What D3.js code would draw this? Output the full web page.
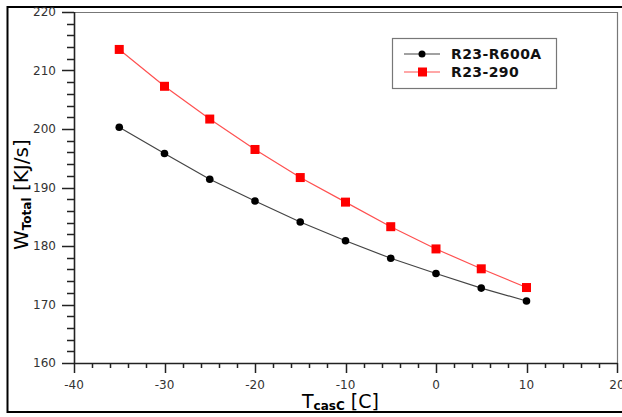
<!DOCTYPE html>
<html>
<head>
<meta charset="utf-8">
<script src="https://d3js.org/d3.v7.min.js"></script>
<style>
  body { margin: 0; background: #fff; }
  text { font-family: "DejaVu Sans", Verdana, sans-serif; }
</style>
</head>
<body>
<svg id="chart" width="622" height="417"></svg>
<script>
// data
const temps = [-35, -30, -25, -20, -15, -10, -5, 0, 5, 10];
const r600a = [200.3, 195.8, 191.4, 187.7, 184.1, 180.9, 177.9, 175.3, 172.8, 170.6];
const r290  = [213.6, 207.3, 201.7, 196.5, 191.7, 187.5, 183.3, 179.5, 176.1, 172.9];
const seriesNames = ["R23-R600A", "R23-290"];
const xTicks = [-40, -30, -20, -10, 0, 10, 20];
const yTicks = [160, 170, 180, 190, 200, 210, 220];

const svg = d3.select("#chart");

// outer frame
svg.append("path")
  .attr("d", "M623,7 H7.5 V412 H623")
  .attr("fill", "none").attr("stroke", "#000").attr("stroke-width", 2);

const x = d3.scaleLinear().domain([-40, 20]).range([74, 617]);
const y = d3.scaleLinear().domain([160, 220]).range([363, 12]);
const x0 = x(-40), y0 = y(160);

// plot frame (top/right gray)
svg.append("path")
  .attr("d", `M${x0},${y(220) + 0.5} H${x(20) + 0.5} V${y0}`)
  .attr("fill", "none").attr("stroke", "#777").attr("stroke-width", 1.2);

// ticks as one path, built from the scales
const xMinor = d3.range(-40, 21, 2);
const yMinor = d3.range(160, 221, 2);
let td = "";
xMinor.forEach(d => {
  const px = Math.round(x(d)) + 0.5;
  td += `M${px},${y0}V${y0 + (d % 10 === 0 ? 10 : 5)}`;
});
yMinor.forEach(d => {
  const py = Math.round(y(d)) + 0.5;
  td += `M${x0},${py}H${x0 - (d % 10 === 0 ? 12 : 7)}`;
});
svg.append("path").attr("d", td).attr("fill", "none")
  .attr("stroke", "#222").attr("stroke-width", 1.5);
svg.append("path")
  .attr("d", `M${x0 + 0.5},${y(220)}V${y0 + 0.5}H${x(20) + 0.5}`)
  .attr("fill", "none").attr("stroke", "#222").attr("stroke-width", 1.6);

// tick labels
const lab = svg.append("g").attr("fill", "#333").style("font-size", "12px");
lab.selectAll(".xl").data(xTicks).enter().append("text")
  .attr("x", d => x(d)).attr("y", y0 + 26).attr("text-anchor", "middle").text(d => String(d));
lab.selectAll(".yl").data(yTicks).enter().append("text")
  .attr("x", x0 - 18).attr("y", d => y(d) + 4).attr("text-anchor", "end").text(d => String(d));

// series
const series = [
  { name: seriesNames[0], vals: r600a, color: "#000", line: "#444", shape: "circle" },
  { name: seriesNames[1], vals: r290, color: "#ff0000", line: "#ff5050", shape: "square" }
];
const line = d3.line().x(d => x(d[0])).y(d => y(d[1]));

series.forEach(s => {
  const pts = temps.map((t, i) => [t, s.vals[i]]);
  svg.append("path").datum(pts).attr("d", line)
    .attr("fill", "none").attr("stroke", s.line).attr("stroke-width", 1.2);
  if (s.shape === "circle") {
    svg.selectAll(null).data(pts).enter().append("circle")
      .attr("cx", d => x(d[0])).attr("cy", d => y(d[1])).attr("r", 3.8).attr("fill", s.color);
  } else {
    svg.selectAll(null).data(pts).enter().append("rect")
      .attr("x", d => x(d[0]) - 4.5).attr("y", d => y(d[1]) - 4.5)
      .attr("width", 9).attr("height", 9).attr("fill", s.color);
  }
});

// legend
const lg = svg.append("g");
lg.append("rect").attr("x", 392.5).attr("y", 38.5).attr("width", 164).attr("height", 50)
  .attr("fill", "#fff").attr("stroke", "#777").attr("stroke-width", 1.2);
series.forEach((s, i) => {
  const ly = 54 + i * 18;
  lg.append("line").attr("x1", 404).attr("x2", 440).attr("y1", ly).attr("y2", ly)
    .attr("stroke", s.line).attr("stroke-width", 1.2);
  if (s.shape === "circle") lg.append("circle").attr("cx", 422).attr("cy", ly).attr("r", 3.5).attr("fill", s.color);
  else lg.append("rect").attr("x", 418).attr("y", ly - 4.5).attr("width", 9).attr("height", 9).attr("fill", s.color);
  lg.append("text").attr("x", 451).attr("y", ly + 5).attr("fill", "#111")
    .style("font-size", "14px").style("font-weight", "bold").style("letter-spacing", "0.4px").text(s.name);
});

// axis titles
const xt = svg.append("text").attr("x", 302).attr("y", 408).attr("fill", "#000").style("font-size", "19px");
xt.append("tspan").text("T");
xt.append("tspan").attr("dy", 2).style("font-size", "12px").style("font-weight", "bold").text("casC");
xt.append("tspan").attr("dy", -2).text(" [C]");

const yt = svg.append("text").attr("transform", "translate(28,250) rotate(-90)").attr("fill", "#000")
  .style("font-size", "20px");
yt.append("tspan").text("W");
yt.append("tspan").attr("dy", 3).style("font-size", "12px").style("font-weight", "bold").text("Total");
yt.append("tspan").attr("dy", -3).text(" [KJ/s]");
</script>
</body>
</html>
